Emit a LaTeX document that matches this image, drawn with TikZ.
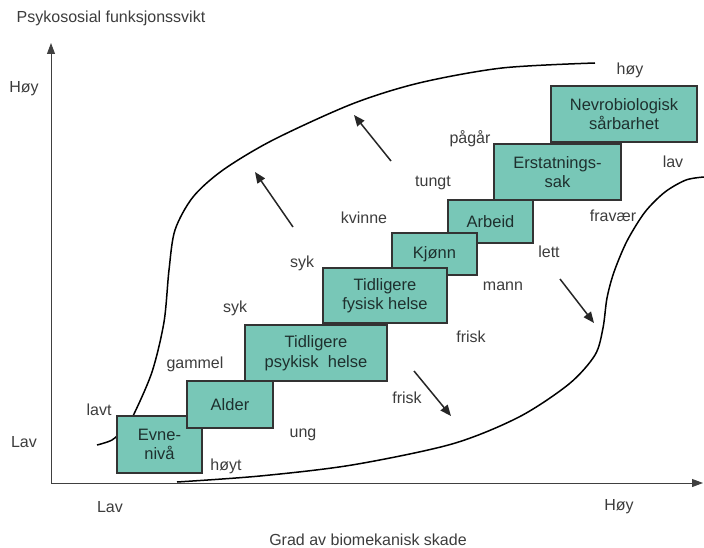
\documentclass[tikz,border=0pt]{standalone}
\usepackage{fontspec}
\setmainfont{Liberation Sans}
\usetikzlibrary{arrows.meta}
\definecolor{boxfill}{RGB}{120,199,183}
\definecolor{boxtext}{RGB}{30,48,46}
\definecolor{labeltext}{RGB}{60,60,60}
\begin{document}
\begin{tikzpicture}[x=1pt,y=-1pt,
  stepbox/.style={draw=black!80, line width=1.1pt, fill=boxfill, text=boxtext, align=center, inner sep=0pt, font=\fontsize{16.5}{19.5}\selectfont},
  lbl/.style={text=labeltext, font=\fontsize{16}{19}\selectfont, inner sep=0pt},
  axisline/.style={draw=black!75, line width=0.9pt, -{Triangle[length=11pt,width=8pt]}},
  curveline/.style={draw=black, line width=1.5pt},
  trend/.style={draw=black!85, line width=1.5pt, -{Triangle[length=11pt,width=9pt]}}]
\useasboundingbox (0,0) rectangle (704,548);

% axes
\coordinate (O) at (51,483);
\coordinate (ytop) at (51,43);
\coordinate (xend) at (703,483);
\draw[axisline] (O) -- (ytop);
\draw[axisline] (O) -- (xend);

% axis labels
\node[lbl] (ytitle) at (111,18) {Psykososial funksjonssvikt};
\node[lbl] (yhigh) at (24,89) {Høy};
\node[lbl] (ylow) at (24,442) {Lav};
\node[lbl] (xlow) at (110,507) {Lav};
\node[lbl] (xhigh) at (619,507) {Høy};
\node[lbl] (xtitle) at (368,540) {Grad av biomekanisk skade};

% envelope curves
\draw[curveline] plot[smooth, tension=0.5] coordinates {
  (97,445) (112,440) (124,429) (133,416) (152,372) (164,322)
  (169,270) (175,230) (193,197) (223,170) (273,140)
  (352,104) (419,83) (502,68) (595,63)};
\draw[curveline] plot[smooth, tension=0.5] coordinates {
  (177,482) (260,476) (352,465) (452,444) (519,417) (569,384)
  (595,355) (603,328) (607,298) (614,272) (627,241) (645,212)
  (665,192) (686,180) (704,177)};

% trend arrows
\coordinate (a1s) at (293,227); \coordinate (a1e) at (255,172);
\coordinate (a2s) at (391,161); \coordinate (a2e) at (354,115);
\coordinate (a3s) at (414,371); \coordinate (a3e) at (451,416);
\coordinate (a4s) at (560,279); \coordinate (a4e) at (594,323);
\draw[trend] (a1s) -- (a1e);
\draw[trend] (a2s) -- (a2e);
\draw[trend] (a3s) -- (a3e);
\draw[trend] (a4s) -- (a4e);

% step boxes
\node[stepbox, minimum width=146pt, minimum height=56pt] (nevro) at (624,114) {Nevrobiologisk\\sårbarhet};
\node[stepbox, minimum width=127pt, minimum height=56pt] (erst) at (557.5,172) {Erstatnings-\\sak};
\node[stepbox, minimum width=85pt, minimum height=43pt] (arbeid) at (490.5,221.5) {Arbeid};
\node[stepbox, minimum width=85pt, minimum height=42pt] (kjonn) at (434.5,254) {Kjønn};
\node[stepbox, minimum width=124pt, minimum height=55pt] (fys) at (385,295.5) {Tidligere\\fysisk helse};
\node[stepbox, minimum width=142pt, minimum height=56pt] (psyk) at (316,353) {Tidligere\\psykisk~ helse};
\node[stepbox, minimum width=85pt, minimum height=57pt] (evne) at (159.5,444.5) {Evne-\\nivå};
\node[stepbox, minimum width=86pt, minimum height=47pt] (alder) at (230,404.5) {Alder};

% factor labels
\node[lbl] (lavt) at (99,410) {lavt};
\node[lbl] (hoyt) at (226,466) {høyt};
\node[lbl] (gammel) at (195,364) {gammel};
\node[lbl] (ung) at (303,435) {ung};
\node[lbl] (syk1) at (235,308) {syk};
\node[lbl] (syk2) at (302,263) {syk};
\node[lbl] (kvinne) at (364,218) {kvinne};
\node[lbl] (tungt) at (433,183) {tungt};
\node[lbl] (pagar) at (470,139) {pågår};
\node[lbl] (hoy) at (630,70) {høy};
\node[lbl] (lav) at (673,162) {lav};
\node[lbl] (fravaer) at (613,216) {fravær};
\node[lbl] (lett) at (549,252) {lett};
\node[lbl] (mann) at (503,286) {mann};
\node[lbl] (frisk1) at (471,337) {frisk};
\node[lbl] (frisk2) at (407,398) {frisk};
\end{tikzpicture}
\end{document}
